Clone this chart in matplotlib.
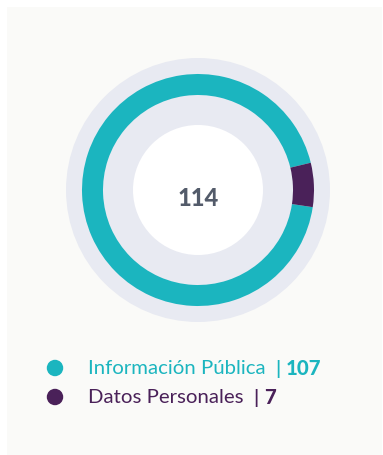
import matplotlib
matplotlib.use("Agg")
import matplotlib.pyplot as plt
from matplotlib.patches import Circle, Rectangle

# Data
categories = ["Información Pública", "Datos Personales"]
values = [107, 7]
colors = ["#1bb5bf", "#4a2159"]
total = sum(values)

W, H = 383, 456
DPI = 100
fig = plt.figure(figsize=(W / DPI, H / DPI), dpi=DPI)
fig.patch.set_facecolor("white")
ax = fig.add_axes([0, 0, 1, 1])
ax.set_xlim(0, W)
ax.set_ylim(0, H)
ax.axis("off")

# Card background
ax.add_patch(Rectangle((7, 0), W - 8, H - 8, facecolor="#fafaf8", edgecolor="none", zorder=0))

cx, cy = 198, H - 191

# Pale halo behind the ring
ax.add_patch(Circle((cx, cy), 132, facecolor="#e8eaf2", edgecolor="none", zorder=1))

wedges, _ = ax.pie(values, colors=colors, startangle=13.6, counterclock=True,
                   center=(cx, cy), radius=116,
                   wedgeprops=dict(width=21, edgecolor="none", linewidth=0))
for w in wedges:
    w.set_zorder(2)

# White core
ax.add_patch(Circle((cx, cy), 65, facecolor="white", edgecolor="none", zorder=3))

ax.set_xlim(0, W)
ax.set_ylim(0, H)
ax.set_aspect("auto")

ax.text(cx, cy - 7, str(total), ha="center", va="center", fontsize=17,
        fontweight="black", color="#535b6a", family="Lato", zorder=4)

# Legend
rows_y = [H - 369, H - 398]
text_colors = ["#1bb5bf", "#4a2159"]
for cat, val, c, tc, y in zip(categories, values, colors, text_colors, rows_y):
    ax.scatter([55], [y], s=140, color=c, edgecolors="none", zorder=4)
    t1 = ax.text(88, y, cat, ha="left", va="center", fontsize=14.7,
                 color=tc, family="Lato", zorder=4)
    t2 = ax.annotate("|", xy=(1, 0.5), xycoords=t1, xytext=(10, 0),
                     textcoords="offset pixels", ha="left", va="center",
                     fontsize=14.7, fontweight="semibold", color=tc, family="Lato")
    ax.annotate(str(val), xy=(1, 0.5), xycoords=t2, xytext=(5, 0),
                textcoords="offset pixels", ha="left", va="center",
                fontsize=14.7, fontweight="black", color=tc, family="Lato")

fig.savefig("out.png", dpi=DPI, facecolor=fig.get_facecolor())
